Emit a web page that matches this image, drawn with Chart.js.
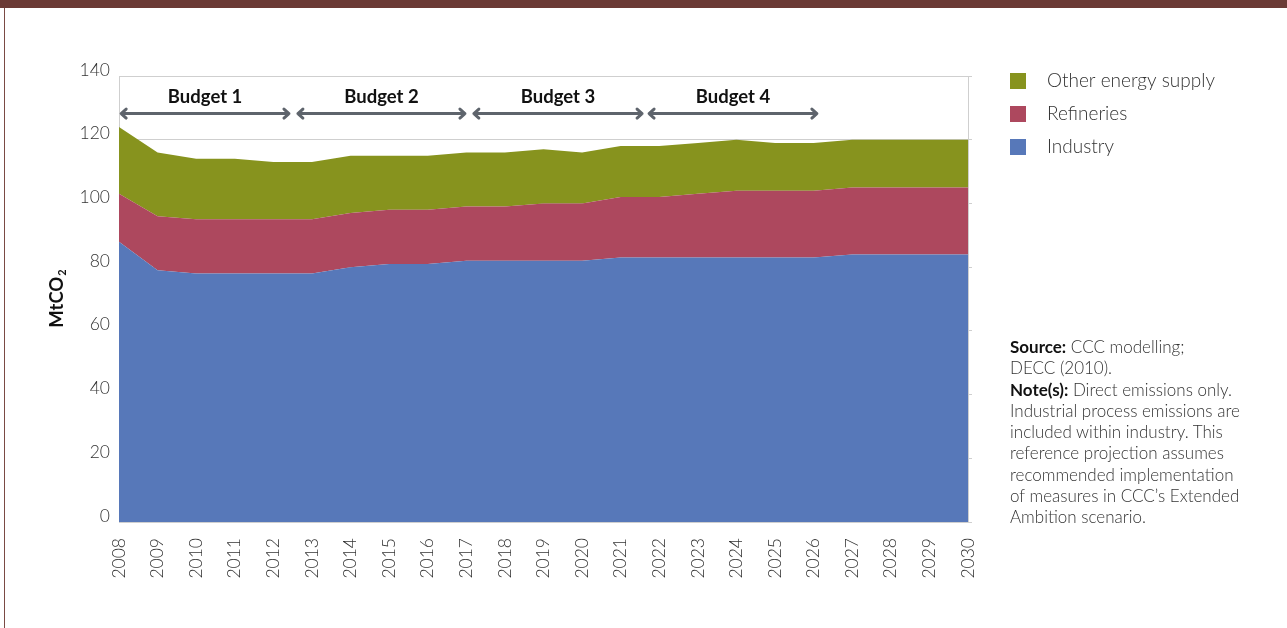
<!DOCTYPE html>
<html>
<head>
<meta charset="utf-8">
<script src="https://cdn.jsdelivr.net/npm/chart.js@4"></script>
<style>
  html, body { margin: 0; padding: 0; background: #fff; }
  #wrap { position: relative; width: 1287px; height: 628px; overflow: hidden; }
  #topbar { position: absolute; left: 0; top: 0; width: 1287px; height: 8px; background: #6b3a35; }
  #leftline { position: absolute; left: 4px; top: 8px; width: 1px; height: 620px; background: #7a4a44; }
  #chart { position: absolute; left: 0; top: 0; }
  #note {
    position: absolute; left: 1010px; top: 336px; width: 240px;
    font-family: Lato, "Open Sans", sans-serif; font-weight: 300; font-size: 17px; line-height: 21.3px; color: #333;
  }
  #note b { color: #111; font-weight: bold; }
</style>
</head>
<body>
<div id="wrap">
  <canvas id="chart" width="1287" height="628"></canvas>
  <div id="topbar"></div>
  <div id="leftline"></div>
  <div id="note">
    <b>Source:</b> CCC modelling;<br>DECC (2010).<br>
    <b>Note(s):</b> Direct emissions only. Industrial process emissions are included within industry. This reference projection assumes recommended implementation of measures in CCC’s Extended Ambition scenario.
  </div>
</div>
<script>
const years = ['2008', '2009', '2010', '2011', '2012', '2013', '2014', '2015', '2016', '2017', '2018',
  '2019', '2020', '2021', '2022', '2023', '2024', '2025', '2026', '2027', '2028', '2029', '2030'];

const industry = [88, 79, 78, 78, 78, 78, 80, 81, 81, 82, 82, 82, 82, 83, 83, 83, 83, 83, 83, 84, 84, 84, 84];
const refineries = [15, 17, 17, 17, 17, 17, 17, 17, 17, 17, 17, 18, 18, 19, 19, 20, 21, 21, 21, 21, 21, 21, 21];
const otherSupply = [21, 20, 19, 19, 18, 18, 18, 17, 17, 17, 17, 17, 16, 16, 16, 16, 16, 15, 15, 15, 15, 15, 15];

// budget periods, in category index units
const budgetNames = ['Budget 1', 'Budget 2', 'Budget 3', 'Budget 4'];
const budgetFrom = [0.03, 4.61, 9.17, 13.71];
const budgetTo = [4.43, 8.99, 13.58, 18.11];

const blue = '#5778b9';
const red = '#ad485e';
const green = '#87931e';
const gridGrey = '#cfcfcf';
const font = 'Lato, "Open Sans", sans-serif';

const budgetArrows = {
  id: 'budgetArrows',
  afterDatasetsDraw(chart) {
    const { ctx, scales: { x, y } } = chart;
    const arrowY = y.getPixelForValue(128.2);
    const textY = y.getPixelForValue(133.4);
    ctx.save();
    ctx.strokeStyle = '#5e646c';
    ctx.lineWidth = 3;
    ctx.lineCap = 'round';
    ctx.lineJoin = 'round';
    budgetNames.forEach((name, i) => {
      const x0 = x.getPixelForValue(budgetFrom[i]);
      const x1 = x.getPixelForValue(budgetTo[i]);
      ctx.beginPath();
      ctx.moveTo(x0 + 1, arrowY);
      ctx.lineTo(x1 - 1, arrowY);
      ctx.moveTo(x0 + 6, arrowY - 4.5);
      ctx.lineTo(x0 + 1, arrowY);
      ctx.lineTo(x0 + 6, arrowY + 4.5);
      ctx.moveTo(x1 - 6, arrowY - 4.5);
      ctx.lineTo(x1 - 1, arrowY);
      ctx.lineTo(x1 - 6, arrowY + 4.5);
      ctx.stroke();
      ctx.fillStyle = '#111';
      ctx.font = 'bold 18.5px ' + font;
      ctx.textAlign = 'center';
      ctx.textBaseline = 'middle';
      ctx.fillText(name, (x0 + x1) / 2, textY);
    });
    ctx.restore();
  }
};

const sideLegend = {
  id: 'sideLegend',
  afterDraw(chart) {
    const { ctx } = chart;
    const sets = chart.data.datasets.slice().reverse();
    ctx.save();
    ctx.font = '300 19px ' + font;
    ctx.textBaseline = 'middle';
    ctx.textAlign = 'left';
    sets.forEach((ds, i) => {
      const cy = 81 + i * 33;
      ctx.fillStyle = ds.backgroundColor;
      ctx.fillRect(1010, cy - 8, 16, 16);
      ctx.fillStyle = '#333';
      ctx.fillText(ds.label, 1047, cy);
    });
    ctx.restore();
  }
};

const yTitle = {
  id: 'yTitle',
  afterDraw(chart) {
    const { ctx, chartArea } = chart;
    ctx.save();
    ctx.translate(57, (chartArea.top + chartArea.bottom) / 2);
    ctx.rotate(-Math.PI / 2);
    ctx.fillStyle = '#111';
    ctx.textBaseline = 'middle';
    ctx.font = 'bold 18.5px ' + font;
    const w1 = ctx.measureText('MtCO').width;
    ctx.font = 'bold 11px ' + font;
    const w2 = ctx.measureText('2').width;
    const start = -(w1 + w2) / 2;
    ctx.font = 'bold 18.5px ' + font;
    ctx.textAlign = 'left';
    ctx.fillText('MtCO', start, 0);
    ctx.font = 'bold 11px ' + font;
    ctx.fillText('2', start + w1 + 1, 5);
    ctx.restore();
  }
};

new Chart(document.getElementById('chart'), {
  type: 'line',
  data: {
    labels: years,
    datasets: [
      { label: 'Industry', data: industry, backgroundColor: blue, fill: 'origin' },
      { label: 'Refineries', data: refineries, backgroundColor: red, fill: '-1' },
      { label: 'Other energy supply', data: otherSupply, backgroundColor: green, fill: '-1' },
    ],
  },
  options: {
    responsive: false,
    animation: false,
    layout: { padding: { top: 76, left: 0, right: 0, bottom: 0 } },
    elements: {
      point: { radius: 0, hoverRadius: 0 },
      line: { borderWidth: 0, tension: 0 },
    },
    plugins: {
      legend: { display: false },
      tooltip: { enabled: false },
    },
    scales: {
      x: {
        grid: { display: false },
        border: { display: true, color: gridGrey, width: 1 },
        ticks: {
          autoSkip: false, minRotation: 90, maxRotation: 90, padding: 8,
          color: '#333', font: { family: font, size: 17.5, weight: 300 },
        },
        afterFit(scale) { scale.height = 106; },
      },
      y: {
        stacked: true,
        min: 0, max: 140,
        grid: { color: gridGrey, drawTicks: false },
        border: { display: true, color: gridGrey },
        ticks: {
          stepSize: 20, padding: 9, labelOffset: -6,
          color: '#333', font: { family: font, size: 17.5, weight: 300 },
        },
        afterFit(scale) { scale.width = 119; },
      },
      y2: {
        position: 'right',
        min: 0, max: 140,
        grid: { drawOnChartArea: false, drawTicks: true, tickLength: 4, color: gridGrey },
        border: { display: true, color: gridGrey },
        ticks: { stepSize: 20, display: false },
        afterFit(scale) { scale.width = 319; },
      },
    },
  },
  plugins: [budgetArrows, sideLegend, yTitle],
});
</script>
</body>
</html>
